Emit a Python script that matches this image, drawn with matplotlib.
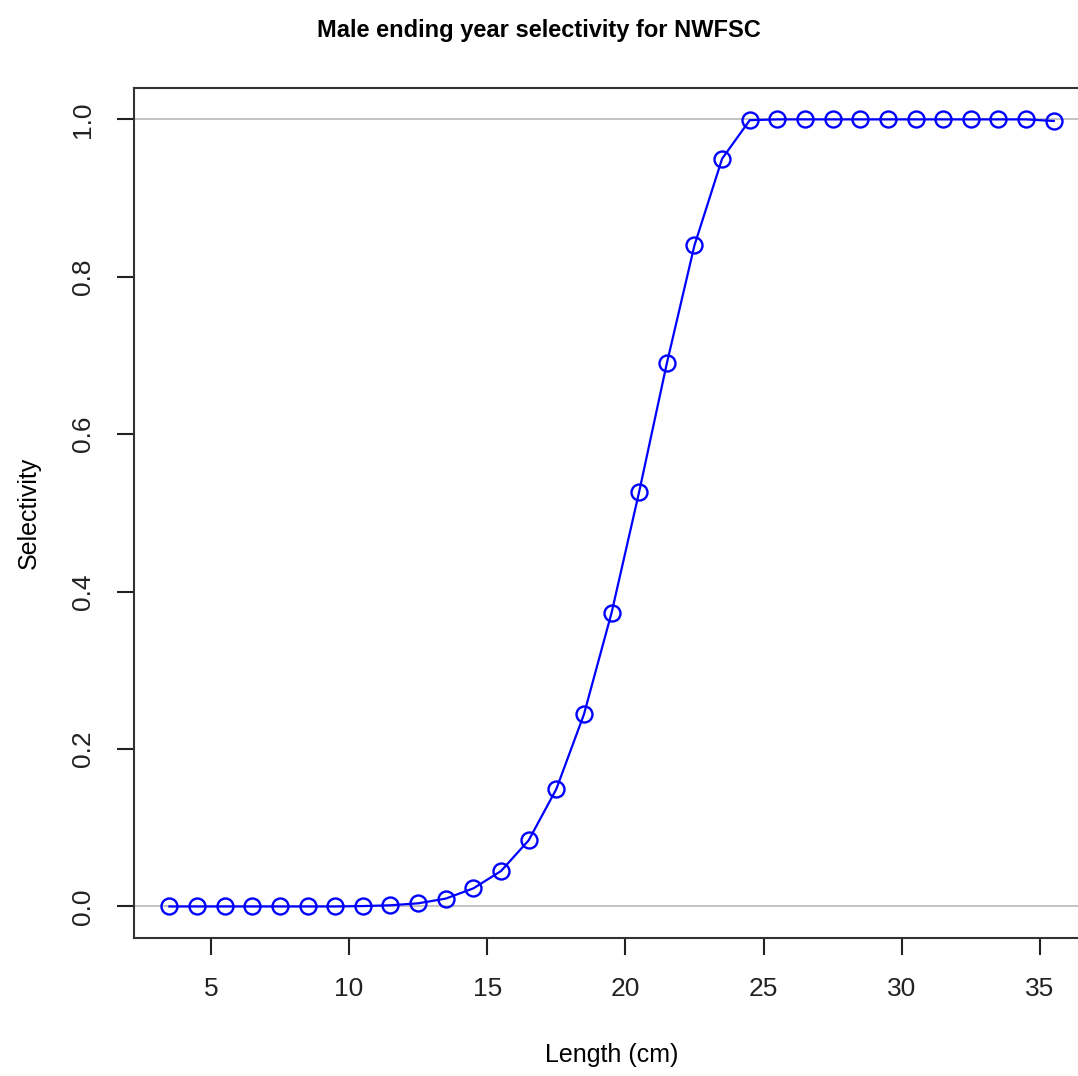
import matplotlib
matplotlib.use("Agg")
import matplotlib.pyplot as plt

plt.rcParams['font.family'] = ['Liberation Sans', 'DejaVu Sans']

length = [3.5, 4.5, 5.5, 6.5, 7.5, 8.5, 9.5, 10.5, 11.5, 12.5, 13.5, 14.5,
          15.5, 16.5, 17.5, 18.5, 19.5, 20.5, 21.5, 22.5, 23.5, 24.5, 25.5,
          26.5, 27.5, 28.5, 29.5, 30.5, 31.5, 32.5, 33.5, 34.5, 35.5]
selex = [0.0, 0.0, 0.0, 0.0, 0.0, 0.0, 0.0, 0.0005, 0.0015, 0.004, 0.010,
         0.023, 0.045, 0.084, 0.149, 0.244, 0.373, 0.527, 0.690, 0.840,
         0.950, 0.999, 1.0, 1.0, 1.0, 1.0, 1.0, 1.0, 1.0, 1.0, 1.0, 1.0, 0.998]
xticks = [5, 10, 15, 20, 25, 30, 35]
yticks = [0.0, 0.2, 0.4, 0.6, 0.8, 1.0]

fig = plt.figure(figsize=(10.78, 10.76), dpi=100)
ax = fig.add_axes([0.1243, 0.1283, 0.886, 0.790])

ax.axhline(0, color='#bdbdbd', lw=1.3, zorder=1)
ax.axhline(1, color='#bdbdbd', lw=1.3, zorder=1)
ax.plot(length, selex, color='blue', lw=1.6, marker='o', ms=11.5,
        mfc='none', mec='blue', mew=1.7, zorder=3, clip_on=False)

ax.set_xlim(2.22, 36.78)
ax.set_ylim(-0.04, 1.04)
ax.set_xticks(xticks)
ax.set_yticks(yticks)
ax.set_yticklabels(['%.1f' % v for v in yticks], rotation=90, va='center')
ax.tick_params(direction='out', length=12, width=1.5, labelsize=19, pad=16,
               colors='#222222')
for s in ax.spines.values():
    s.set_linewidth(1.5)
    s.set_color('#333333')

ax.set_xlabel('Length (cm)', fontsize=18, labelpad=30)
ax.set_ylabel('Selectivity', fontsize=18, labelpad=22)
fig.text(0.5, 0.972, 'Male ending year selectivity for NWFSC', ha='center',
         va='center', fontsize=17, fontweight='bold')

fig.savefig('out.png', dpi=100)
